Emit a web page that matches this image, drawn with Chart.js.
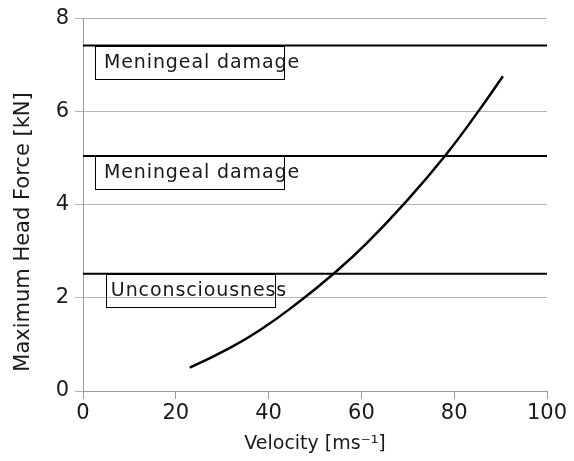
<!DOCTYPE html>
<html>
<head>
<meta charset="utf-8">
<script src="https://cdn.jsdelivr.net/npm/chart.js@4"></script>
<style>
html,body{margin:0;padding:0;background:#fff;}
#wrap{width:574px;height:461px;}
</style>
</head>
<body>
<div id="wrap"><canvas id="c" width="574" height="461"></canvas></div>
<script>
// Data
const velocity = [23, 30, 38, 47, 54, 61, 69, 78, 85, 90.5];
const headForce = [0.5, 0.84, 1.3, 1.95, 2.52, 3.16, 4.0, 5.05, 5.98, 6.76];
const thresholdNames = ["Meningeal damage", "Meningeal damage", "Unconsciousness"];
const thresholdValues = [7.42, 5.05, 2.52];
const xTicks = [0, 20, 40, 60, 80, 100];
const yTicks = [0, 2, 4, 6, 8];
const xTitle = 'Velocity [ms\u207B\u00B9]';
const yTitle = 'Maximum Head Force [kN]';

const FONT = "'DejaVu Sans', sans-serif";
const TEXT = '#1a1a1a';

const datasets = [{
  label: 'Head force',
  data: velocity.map((v, i) => ({x: v, y: headForce[i]})),
  showLine: true, borderColor: '#000', borderWidth: 2.5,
  pointRadius: 0, tension: 0.5
}];
thresholdValues.forEach((t, i) => {
  datasets.push({
    label: thresholdNames[i],
    data: [{x: 0, y: t}, {x: 100, y: t}],
    showLine: true, borderColor: '#000', borderWidth: 2,
    pointRadius: 0
  });
});

// label boxes: [xStart, xEnd] in data units, box top sits on threshold line
const boxX = [[2.6, 43.4], [2.6, 43.4], [5.0, 41.4]];
const textX = [4.5, 4.5, 6.0];

const labelPlugin = {
  id: 'labels',
  afterDatasetsDraw(chart) {
    const {ctx, scales: {x, y}} = chart;
    ctx.save();
    ctx.font = '19px ' + FONT;
    ctx.letterSpacing = '0.9px';
    ctx.textBaseline = 'middle';
    ctx.fillStyle = TEXT;
    thresholdValues.forEach((t, i) => {
      const top = y.getPixelForValue(t);
      const x0 = x.getPixelForValue(boxX[i][0]);
      const x1 = x.getPixelForValue(boxX[i][1]);
      ctx.strokeStyle = '#000';
      ctx.lineWidth = 1;
      ctx.strokeRect(Math.round(x0) + 0.5, Math.round(top) + 0.5, Math.round(x1 - x0), 33);
      ctx.fillText(thresholdNames[i], x.getPixelForValue(textX[i]), top + 17);
    });
    ctx.restore();
    // y axis title (placed lower than centred, as in the reference)
    ctx.save();
    ctx.font = '21px ' + FONT;
    ctx.fillStyle = TEXT;
    ctx.textAlign = 'center';
    ctx.textBaseline = 'middle';
    ctx.translate(24, 232);
    ctx.rotate(-Math.PI / 2);
    ctx.fillText(yTitle, 0, 0);
    ctx.restore();
  }
};

new Chart(document.getElementById('c'), {
  type: 'scatter',
  data: {datasets},
  plugins: [labelPlugin],
  options: {
    responsive: false,
    animation: false,
    layout: {padding: {top: 17, right: 27, left: 0, bottom: 0}},
    plugins: {legend: {display: false}, tooltip: {enabled: false}},
    scales: {
      x: {
        type: 'linear', min: 0, max: 100,
        afterBuildTicks: s => { s.ticks = xTicks.map(v => ({value: v})); },
        afterFit: s => { s.height = 70; },
        border: {color: '#999', width: 1},
        grid: {drawOnChartArea: false, color: '#999', tickLength: 8},
        ticks: {color: TEXT, font: {family: FONT, size: 21}, padding: 2, maxRotation: 0},
        title: {display: true, text: xTitle, color: TEXT, font: {family: FONT, size: 19}, padding: {top: 0, bottom: 6}}
      },
      y: {
        type: 'linear', min: 0, max: 8,
        afterBuildTicks: s => { s.ticks = yTicks.map(v => ({value: v})); },
        afterFit: s => { s.width = 83; },
        border: {color: '#999', width: 1},
        grid: {color: '#b5b5b5', tickLength: 8},
        ticks: {color: TEXT, font: {family: FONT, size: 21}, padding: 6},
        title: {display: false}
      }
    }
  }
});
</script>
</body>
</html>
